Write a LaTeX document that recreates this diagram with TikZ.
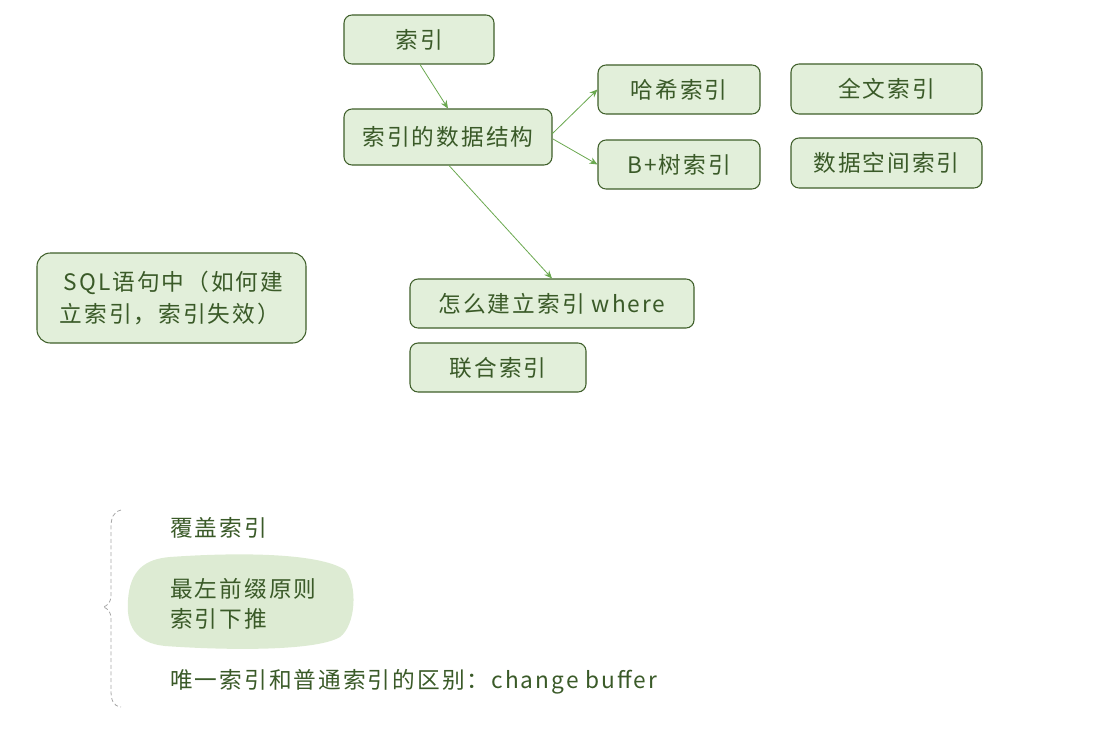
\documentclass[tikz,border=0pt]{standalone}
\usepackage{fontspec}
\setmainfont{Noto Sans CJK SC}[LetterSpace=9]
\usetikzlibrary{arrows.meta}
\definecolor{boxfill}{HTML}{E2EFDA}
\definecolor{boxdraw}{HTML}{3F5F2A}
\definecolor{txt}{HTML}{3A5A28}
\definecolor{arr}{HTML}{6AA84F}
\definecolor{blob}{HTML}{DDEBD3}
\tikzset{
  box/.style={draw=boxdraw, line width=0.8pt, fill=boxfill, rounded corners=6pt, inner sep=0pt, text=txt, font=\fontsize{17}{24}\selectfont},
  conn/.style={draw=arr, line width=0.6pt, -{Stealth[length=6pt,width=5pt]}},
  plain/.style={text=txt, font=\fontsize{17}{22.5}\selectfont, anchor=west, inner sep=0pt, align=left}
}
\begin{document}
\begin{tikzpicture}[x=0.75pt,y=-0.75pt]
\useasboundingbox (0,0) rectangle (1098,742);
\node[box, minimum width=150*0.75pt, minimum height=49*0.75pt] (idx) at (419,39.5) {索引};
\node[box, minimum width=208*0.75pt, minimum height=56*0.75pt] (ds) at (448,137) {索引的数据结构};
\node[box, minimum width=162*0.75pt, minimum height=49*0.75pt] (hash) at (679,89.5) {哈希索引};
\node[box, minimum width=191*0.75pt, minimum height=50*0.75pt] (full) at (886.5,89) {全文索引};
\node[box, minimum width=162*0.75pt, minimum height=49*0.75pt] (bt) at (679,164.5) {B+树索引};
\node[box, minimum width=191*0.75pt, minimum height=50*0.75pt] (space) at (886.5,163) {数据空间索引};
\node[box, minimum width=269*0.75pt, minimum height=90*0.75pt, align=left, rounded corners=10pt] (sql) at (171.5,298) {\hspace{3pt}SQL语句中（如何建\\立索引，索引失效）};
\node[box, minimum width=284*0.75pt, minimum height=49*0.75pt] (how) at (552,303.5) {怎么建立索引 where};
\node[box, minimum width=176*0.75pt, minimum height=49*0.75pt] (union) at (498,367.5) {联合索引};
\coordinate (a1) at (420,64.5);
\coordinate (b1) at (448,108.5);
\draw[conn] (a1) -- (b1);
\coordinate (ds1) at (552,134);
\coordinate (ds2) at (553,139);
\coordinate (ds3) at (449,165.5);
\draw[conn] (ds1) -- (hash.west);
\draw[conn] (ds2) -- (bt.west);
\draw[conn] (ds3) -- (how.north);
% bottom part
\path[fill=blob] (170,557) .. controls (240,552) and (320,553) .. (345,570)
  .. controls (358,585) and (356,625) .. (340,637)
  .. controls (315,652) and (220,650) .. (165,646)
  .. controls (135,643) and (126,625) .. (128,600)
  .. controls (130,570) and (145,559) .. (170,557) -- cycle;
\node[plain] (cover) at (170,528) {覆盖索引};
\node[plain] (left) at (170,604) {最左前缀原则\\索引下推};
\node[plain] (uniq) at (170,682) {唯一索引和普通索引的区别：change buffer};
\coordinate (br1) at (121,510);
\coordinate (br2) at (121,707);
\coordinate (brt) at (103,607);
\draw[gray!70, dashed, line width=0.6pt, dash pattern=on 3pt off 2pt]
  (br1) .. controls (113,512) and (111,518) .. (111,528) -- (111,595)
  .. controls (111,603) and (107,606) .. (brt)
  .. controls (107,608) and (111,611) .. (111,619) -- (111,690)
  .. controls (111,700) and (113,706) .. (br2);
\end{tikzpicture}
\end{document}
